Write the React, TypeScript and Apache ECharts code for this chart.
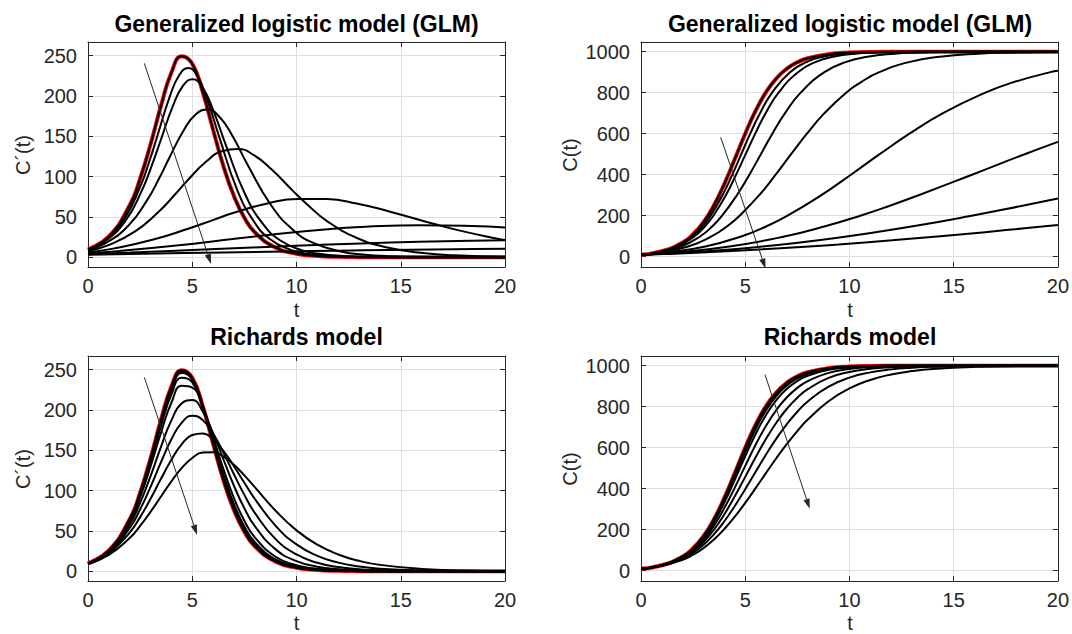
import React, { useEffect, useRef } from "react";
import * as echarts from "echarts";

const FONT = "'Liberation Sans', Arial, Helvetica, sans-serif";

// ---- time grid used by the logistic reference and the Richards curves ----
const T = [0, 1, 2, 2.5, 3, 3.5, 4, 4.5, 5, 5.5, 6, 6.5, 7, 7.5, 8, 9, 10, 11, 12, 13, 14, 16, 18, 20];

// logistic reference curve (red), also p = 1 / a = 1 black curve
const logisticC = [10, 26.7, 69.4, 109.6, 168.7, 250.7, 355.5, 476.2, 599.9, 712.0, 803.0, 870.4, 917.2, 948.1, 967.9, 987.9, 995.5, 998.4, 999.4, 999.8, 999.9, 1000, 1000, 1000];
const logisticD = [9.9, 26.0, 64.6, 97.6, 140.2, 187.8, 229.1, 249.4, 240.0, 205.1, 158.2, 112.8, 75.9, 49.2, 31.1, 11.9, 4.5, 1.65, 0.6, 0.22, 0.08, 0.01, 0, 0];

// ---- Richards model curves (C and C') on grid T ----
const rich099C = [10, 26.7, 69.3, 109.3, 168.0, 249.4, 353.3, 473.1, 595.9, 707.8, 799.0, 867.2, 914.6, 946.2, 966.5, 987.2, 995.2, 998.2, 999.3, 999.8, 999.9, 1000, 1000, 1000];
const rich099D = [9.9, 26.0, 64.4, 97.1, 139.2, 186.3, 227.2, 247.6, 238.9, 205.1, 159.1, 114.1, 77.3, 50.4, 32.1, 12.4, 4.7, 1.76, 0.65, 0.24, 0.09, 0.01, 0, 0];
const rich098C = [10, 26.7, 69.2, 108.9, 167.3, 248.1, 351.0, 469.9, 592.0, 703.5, 795.0, 863.7, 911.9, 944.1, 965.0, 986.6, 995.0, 998.1, 999.3, 999.7, 999.9, 1000, 1000, 1000];
const rich098D = [9.9, 25.9, 64.1, 96.5, 138.3, 184.8, 225.2, 245.8, 237.9, 205.1, 160.0, 115.5, 78.8, 51.7, 33.1, 13.0, 5.0, 1.87, 0.7, 0.26, 0.1, 0.01, 0, 0];
const rich095C = [10, 26.6, 68.7, 107.9, 165.1, 243.9, 344.2, 460.0, 579.7, 690.3, 782.5, 852.9, 903.2, 937.6, 960.3, 984.3, 993.9, 997.6, 999.1, 999.7, 999.9, 1000, 1000, 1000];
const rich095D = [9.9, 25.8, 63.3, 94.9, 135.2, 180.1, 219.2, 240.0, 234.3, 204.9, 162.7, 119.7, 83.2, 55.7, 36.3, 14.7, 5.8, 2.26, 0.88, 0.34, 0.13, 0.02, 0, 0];
const rich090C = [10, 26.5, 67.8, 105.9, 161.0, 236.5, 332.1, 442.8, 558.3, 667.0, 759.8, 832.9, 886.9, 925.0, 950.9, 979.5, 991.5, 996.6, 998.6, 999.4, 999.8, 1000, 1000, 1000];
const rich090D = [9.8, 25.5, 61.8, 91.9, 129.9, 171.9, 209.0, 230.1, 227.9, 203.8, 166.4, 126.4, 90.8, 62.7, 42.1, 18.1, 7.55, 3.1, 1.26, 0.51, 0.21, 0.04, 0.01, 0];
const rich080C = [10, 26.2, 65.7, 101.2, 151.7, 219.8, 305.6, 405.1, 511.1, 614.4, 707.1, 784.7, 845.6, 891.5, 924.9, 964.9, 984.0, 992.7, 996.7, 998.5, 999.3, 999.9, 1000, 1000];
const rich080D = [9.75, 24.8, 58.2, 85.0, 118.1, 154.4, 187.2, 208.5, 212.4, 198.3, 171.2, 138.4, 106.1, 78.2, 56.0, 27.2, 12.6, 5.8, 2.6, 1.18, 0.53, 0.11, 0.02, 0];
const rich070C = [10, 25.7, 62.7, 95.1, 140.3, 200.3, 275.3, 362.8, 457.7, 553.3, 643.4, 723.0, 789.8, 843.4, 885.1, 940.0, 969.4, 984.6, 992.3, 996.2, 998.1, 999.5, 999.9, 1000];
const rich070D = [9.6, 23.7, 53.7, 76.8, 104.8, 135.3, 163.7, 184.4, 192.9, 187.7, 170.9, 146.9, 120.3, 94.8, 72.5, 39.9, 20.9, 10.6, 5.35, 2.68, 1.33, 0.33, 0.08, 0.02];
const rich060C = [10, 25.0, 58.8, 87.5, 126.7, 177.8, 241.2, 315.5, 397.6, 482.9, 566.9, 645.3, 715.3, 775.3, 825.2, 897.5, 941.5, 967.2, 981.8, 989.9, 994.5, 998.3, 999.5, 999.8];
const rich060D = [9.37, 22.3, 48.1, 67.2, 90.0, 114.7, 138.4, 157.6, 169.0, 170.9, 163.6, 149.1, 130.3, 109.8, 89.9, 56.4, 33.4, 19.2, 10.8, 6.0, 3.3, 1.0, 0.3, 0.09];
const rich050C = [10, 24.0, 53.8, 78.1, 110.5, 152.1, 203.3, 263.4, 330.8, 402.9, 476.9, 549.5, 618.3, 681.1, 737.0, 826.5, 888.9, 930.3, 956.8, 973.5, 983.8, 994.0, 997.8, 999.2];
const rich050D = [9.0, 20.3, 41.3, 56.3, 73.8, 92.8, 111.6, 128.2, 140.5, 147.2, 147.6, 142.2, 132.1, 119.0, 104.3, 75.1, 50.8, 33.0, 20.9, 13.0, 8.0, 3.0, 1.1, 0.41];

// ---- GLM curves: rows of [t, C(t), C'(t)] ----
const glm099 = [[0, 10, 9.67], [0.72, 20, 19.0], [1.7, 50, 45.7], [2.48, 100, 86.0], [2.97, 150, 121.3], [3.34, 200, 151.7], [3.91, 300, 198.4], [4.38, 400, 226.0], [4.81, 500, 234.9], [5.24, 600, 225.1], [5.71, 700, 196.7], [6.29, 800, 149.6], [7.15, 900, 84.1], [7.96, 950, 44.4], [8.72, 975, 22.8], [9.72, 990, 9.2], [10.47, 995, 4.6], [11.45, 998, 1.9], [12.93, 999.5, 0.5], [16, 1000, 0.02], [20, 1000, 0]];
const glm098 = [[0, 10, 9.45], [0.74, 20, 18.5], [1.76, 50, 43.9], [2.57, 100, 82.1], [3.08, 150, 115.3], [3.47, 200, 143.9], [4.07, 300, 187.4], [4.56, 400, 212.9], [5.02, 500, 220.8], [5.48, 600, 211.2], [5.98, 700, 184.2], [6.6, 800, 140.0], [7.53, 900, 78.5], [8.39, 950, 41.4], [9.21, 975, 21.2], [10.28, 990, 8.6], [11.08, 995, 4.3], [12.12, 998, 1.7], [13.72, 999.5, 0.44], [17, 1000, 0.02], [20, 1000, 0]];
const glm095 = [[0, 10, 8.82], [0.8, 20, 16.9], [1.93, 50, 39.1], [2.85, 100, 71.5], [3.44, 150, 99.3], [3.89, 200, 122.8], [4.6, 300, 157.9], [5.2, 400, 177.9], [5.75, 500, 183.2], [6.3, 600, 174.3], [6.91, 700, 151.3], [7.66, 800, 114.5], [8.8, 900, 64.0], [9.85, 950, 33.7], [10.86, 975, 17.3], [12.18, 990, 7.0], [13.16, 995, 3.5], [14.45, 998, 1.4], [16.42, 999.5, 0.35], [20, 1000, 0.03]];
const glm090 = [[0, 10, 7.86], [0.92, 20, 14.5], [2.26, 50, 32.1], [3.4, 100, 56.8], [4.15, 150, 77.3], [4.73, 200, 94.2], [5.67, 300, 118.7], [6.46, 400, 131.8], [7.2, 500, 134.3], [7.96, 600, 126.6], [8.8, 700, 109.1], [9.84, 800, 82.1], [10.54, 850, 65.0], [11.43, 900, 45.6], [12.9, 950, 24.0], [14.35, 975, 12.3], [16.18, 990, 5.0], [17.58, 995, 2.5], [20, 998.5, 0.75]];
const glm080 = [[0, 10, 6.25], [1.2, 20, 10.8], [3.09, 50, 21.7], [4.84, 100, 35.8], [6.05, 150, 46.8], [7.03, 200, 55.5], [8.65, 300, 67.1], [10.07, 400, 72.4], [11.45, 500, 72.2], [12.88, 600, 66.8], [14.49, 700, 56.6], [16.52, 800, 42.0], [17.84, 850, 33.1], [19.64, 900, 23.1], [20, 907, 21.6]];
const glm070 = [[0, 10, 4.96], [1.56, 20, 7.98], [4.24, 50, 14.7], [6.93, 100, 22.6], [8.88, 150, 28.4], [10.52, 200, 32.7], [11.97, 250, 35.8], [13.32, 300, 38.0], [15.88, 400, 39.8], [18.41, 500, 38.8], [20, 560, 36.9]];
const glm060 = [[0, 10, 3.94], [2.04, 20, 5.91], [5.83, 50, 9.94], [9.95, 100, 14.3], [13.12, 150, 17.2], [15.86, 200, 19.2], [18.36, 250, 20.6], [20, 284, 21.2]];
const glm050 = [[0, 10, 3.13], [2.66, 20, 4.38], [6.47, 40, 6.07], [9.47, 60, 7.28], [12.04, 80, 8.23], [14.36, 100, 9.0], [16.51, 120, 9.64], [18.52, 140, 10.2], [20, 155, 10.5]];

const titles = ["Generalized logistic model (GLM)", "Generalized logistic model (GLM)", "Richards model", "Richards model"];
const yNames = ["C\u00b4(t)", "C(t)", "C\u00b4(t)", "C(t)"];
const xTicks = [0, 20, 5];
const yRangeRate = [-12, 267, 50];
const yRangeCum = [-50, 1047, 200];

const pairs = (arr: number[]) => T.map((t, i) => [t, arr[i]]);
const col = (rows: number[][], k: number) => rows.map((r) => [r[0], r[k]]);

export default function App() {
  const ref = useRef<HTMLDivElement>(null);
  useEffect(() => {
    if (!ref.current) return;
    const chart = echarts.init(ref.current, undefined, { renderer: "svg" });

    const grids = [
      { left: 88, top: 42, width: 417, height: 225 },
      { left: 641, top: 42, width: 418, height: 225 },
      { left: 88, top: 356, width: 417, height: 225 },
      { left: 641, top: 356, width: 418, height: 225 },
    ];
    const axisColor = "#262626";
    const gridColor = "#dedede";
    const plain = (v: number) => String(v);

    const xAxis: any[] = [];
    const yAxis: any[] = [];
    grids.forEach((g, i) => {
      xAxis.push({
        type: "value", gridIndex: i, min: xTicks[0], max: xTicks[1], interval: xTicks[2], position: "bottom",
        axisLine: { show: true, onZero: false, lineStyle: { color: axisColor, width: 1 } },
        axisTick: { show: true, inside: true, length: 5, lineStyle: { color: axisColor } },
        axisLabel: { fontSize: 20, color: axisColor, margin: 9, fontFamily: FONT, formatter: plain },
        splitLine: { show: true, lineStyle: { color: gridColor, width: 1 } },
      });
    });
    grids.forEach((g, i) => {
      xAxis.push({
        type: "value", gridIndex: i, min: xTicks[0], max: xTicks[1], interval: xTicks[2], position: "top",
        axisLine: { show: true, onZero: false, lineStyle: { color: axisColor, width: 1 } },
        axisTick: { show: true, inside: true, length: 5, lineStyle: { color: axisColor } },
        axisLabel: { show: false },
        splitLine: { show: false },
      });
    });
    grids.forEach((g, i) => {
      const r = i % 2 === 0 ? yRangeRate : yRangeCum;
      yAxis.push({
        type: "value", gridIndex: i, min: r[0], max: r[1], position: "left",
        axisLine: { show: true, onZero: false, lineStyle: { color: axisColor, width: 1 } },
        axisTick: { show: true, inside: true, length: 5, lineStyle: { color: axisColor } },
        axisLabel: { fontSize: 20, color: axisColor, margin: 11, fontFamily: FONT, showMinLabel: false, showMaxLabel: false, formatter: plain },
        splitLine: { show: true, lineStyle: { color: gridColor, width: 1 } },
      });
    });
    grids.forEach((g, i) => {
      const r = i % 2 === 0 ? yRangeRate : yRangeCum;
      yAxis.push({
        type: "value", gridIndex: i, min: r[0], max: r[1], position: "right",
        axisLine: { show: true, onZero: false, lineStyle: { color: axisColor, width: 1 } },
        axisTick: { show: true, inside: true, length: 5, lineStyle: { color: axisColor } },
        axisLabel: { show: false },
        splitLine: { show: false },
      });
    });

    const mk = (gi: number, data: number[][], red: boolean) => ({
      type: "line", xAxisIndex: gi, yAxisIndex: gi, data,
      symbol: "none", showSymbol: false, smooth: 0.5, silent: true,
      lineStyle: { color: red ? "#ff0000" : "#000000", width: red ? 4 : 2 },
      z: red ? 2 : 3,
    });

    const glmRows = [glm099, glm098, glm095, glm090, glm080, glm070, glm060, glm050];
    const richCs = [rich099C, rich098C, rich095C, rich090C, rich080C, rich070C, rich060C, rich050C];
    const richDs = [rich099D, rich098D, rich095D, rich090D, rich080D, rich070D, rich060D, rich050D];

    const series: any[] = [];
    // panel 0: GLM C'
    series.push(mk(0, pairs(logisticD), true));
    series.push(mk(0, pairs(logisticD), false));
    glmRows.forEach((rows) => series.push(mk(0, col(rows, 2), false)));
    // panel 1: GLM C
    series.push(mk(1, pairs(logisticC), true));
    series.push(mk(1, pairs(logisticC), false));
    glmRows.forEach((rows) => series.push(mk(1, col(rows, 1), false)));
    // panel 2: Richards C'
    series.push(mk(2, pairs(logisticD), true));
    series.push(mk(2, pairs(logisticD), false));
    richDs.forEach((d) => series.push(mk(2, pairs(d), false)));
    // panel 3: Richards C
    series.push(mk(3, pairs(logisticC), true));
    series.push(mk(3, pairs(logisticC), false));
    richCs.forEach((c) => series.push(mk(3, pairs(c), false)));

    const arrow = (x1: number, y1: number, x2: number, y2: number) => {
      const dx = x2 - x1, dy = y2 - y1;
      const len = Math.hypot(dx, dy);
      const ux = dx / len, uy = dy / len;
      const hl = 10, hw = 3.2;
      const bx = x2 - ux * hl, by = y2 - uy * hl;
      const px = -uy, py = ux;
      return [
        { type: "line", z: 100, shape: { x1, y1, x2: bx, y2: by }, style: { stroke: "#262626", lineWidth: 1 } },
        { type: "polygon", z: 100, shape: { points: [[x2, y2], [bx + px * hw, by + py * hw], [bx - px * hw, by - py * hw]] }, style: { fill: "#262626" } },
      ];
    };

    const text = (s: string, x: number, y: number, size: number, bold: boolean, rot = 0) => ({
      type: "text", x, y, rotation: rot, z: 100,
      style: { text: s, fill: bold ? "#000" : axisColor, font: `${bold ? "bold " : ""}${size}px ${FONT}`, align: "center", verticalAlign: "middle", textAlign: "center", textVerticalAlign: "middle" },
    });

    const centers = grids.map((g) => g.left + g.width / 2);
    const graphic: any[] = [
      text(titles[0], centers[0], 24, 23, true),
      text(titles[1], centers[1], 24, 23, true),
      text(titles[2], centers[2], 337, 23, true),
      text(titles[3], centers[3], 337, 23, true),
      text("t", centers[0], 310, 20, false),
      text("t", centers[1], 310, 20, false),
      text("t", centers[2], 623, 20, false),
      text("t", centers[3], 623, 20, false),
      text(yNames[0], 23, 155, 20, false, Math.PI / 2),
      text(yNames[1], 570, 155, 20, false, Math.PI / 2),
      text(yNames[2], 23, 469, 20, false, Math.PI / 2),
      text(yNames[3], 570, 469, 20, false, Math.PI / 2),
      ...arrow(144.3, 63.3, 211, 264),
      ...arrow(720.7, 137.3, 765.5, 268.5),
      ...arrow(144.3, 377.3, 197, 534.7),
      ...arrow(765, 374.7, 809.7, 508.7),
    ];

    chart.setOption({
      animation: false,
      backgroundColor: "#ffffff",
      textStyle: { fontFamily: FONT },
      grid: grids,
      xAxis,
      yAxis,
      series,
      graphic,
    });
    return () => chart.dispose();
  }, []);
  return <div ref={ref} style={{ position: "fixed", left: 0, top: 0, width: 1072, height: 634, background: "#fff" }} />;
}
